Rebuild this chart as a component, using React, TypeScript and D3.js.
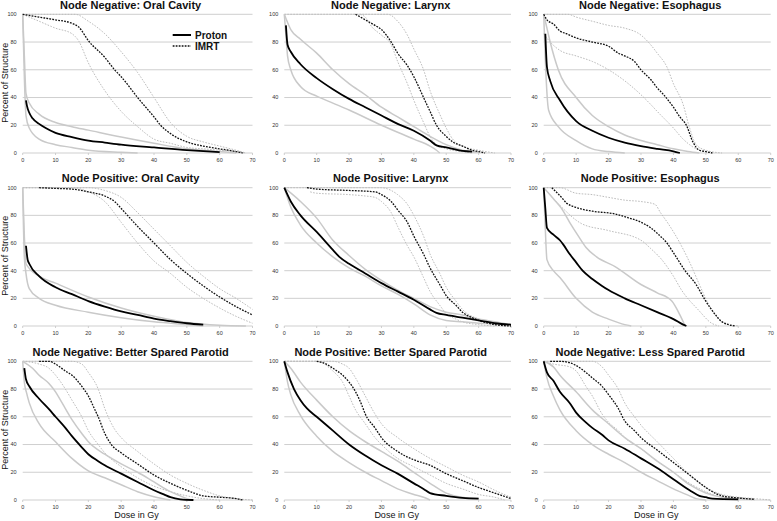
import React from "react";
import * as d3 from "d3";

type Pt = [number, number];

// ---------- tick labels ----------
const doseTicks = [0, 10, 20, 30, 40, 50, 60, 70];
const pctTicks = [0, 20, 40, 60, 80, 100];

const titles = [
  "Node Negative: Oral Cavity",
  "Node Negative: Larynx",
  "Node Negative: Esophagus",
  "Node Positive: Oral Cavity",
  "Node Positive: Larynx",
  "Node Positive: Esophagus",
  "Node Negative: Better Spared Parotid",
  "Node Positive: Better Spared Parotid",
  "Node Negative: Less Spared Parotid",
];

// ---------- 1. Node Negative: Oral Cavity ----------
const nnOralProtonMean: Pt[] = [[1, 38], [1.3, 34], [2, 29], [3, 25], [5, 21], [7, 18], [10, 14.5], [15, 11.5], [20, 9], [25, 7.5], [30, 6], [40, 4], [50, 2], [55, 1.3], [60, 0.7]];
const nnOralProtonHigh: Pt[] = [[0, 100], [0.5, 70], [1, 43], [2, 36], [5, 28], [10, 22], [15, 19], [20, 16.5], [30, 11.5], [40, 7], [50, 3], [60, 1], [65, 0]];
const nnOralProtonLow: Pt[] = [[0, 100], [0.5, 55], [1, 27], [2, 18], [5, 10], [10, 6], [15, 4], [20, 2], [30, 0.5], [35, 0]];
const nnOralImrtMean: Pt[] = [[0, 100], [5, 98], [10, 96], [15, 93.5], [17, 91], [20, 81], [25, 69], [28, 60], [30, 55], [35, 40], [40, 26], [42, 20], [45, 14], [50, 8], [55, 5], [60, 3], [65, 1], [67, 0]];
const nnOralImrtHigh: Pt[] = [[0, 100], [16, 100], [20, 95], [25, 86], [30, 73], [35, 58], [40, 40], [45, 22], [50, 12], [55, 8], [60, 5], [65, 2], [68, 0]];
const nnOralImrtLow: Pt[] = [[0, 100], [5, 95], [10, 90], [15, 86], [17, 81], [20, 65], [25, 45], [30, 30], [35, 19], [40, 10], [45, 7], [50, 4], [55, 3], [60, 2], [65, 1], [68, 0]];

// ---------- 2. Node Negative: Larynx ----------
const nnLarynxProtonMean: Pt[] = [[0.5, 92], [1, 78], [2, 73], [5, 64], [10, 54], [15, 46], [20, 39], [25, 33], [30, 27], [35, 21], [40, 16], [45, 9], [47, 5.5], [50, 4], [55, 1.5], [58, 1]];
const nnLarynxProtonHigh: Pt[] = [[0, 100], [2, 89], [5, 82], [10, 72], [15, 60], [20, 50], [25, 42], [30, 33], [35, 26], [40, 19], [45, 12], [50, 6], [55, 2], [60, 0.5]];
const nnLarynxProtonLow: Pt[] = [[0, 100], [0.5, 85], [1, 70], [2, 60], [5, 48], [10, 41], [15, 36], [20, 31], [30, 20], [40, 10], [45, 5], [47, 2], [48, 0]];
const nnLarynxImrtMean: Pt[] = [[22, 100], [25, 96], [28, 92], [30, 89], [33, 80], [35, 72], [38, 63], [40, 55], [43, 40], [45, 30], [47, 20], [50, 12], [52, 8], [55, 5], [58, 2], [60, 1], [62, 0]];
const nnLarynxImrtHigh: Pt[] = [[0, 100], [32, 100], [35, 95], [38, 85], [40, 75], [43, 60], [45, 45], [48, 28], [50, 18], [52, 10], [55, 5], [60, 2], [65, 0]];
const nnLarynxImrtLow: Pt[] = [[23.5, 100], [25, 98], [27, 91], [30, 85], [33, 78], [35, 66], [38, 50], [40, 38], [43, 22], [45, 12], [47, 6], [50, 3], [55, 1], [58, 0]];

// ---------- 3. Node Negative: Esophagus ----------
const nnEsoProtonMean: Pt[] = [[0.5, 86], [1, 62], [2, 52], [5, 38], [10, 23], [15, 16], [20, 11], [25, 7.5], [30, 5], [35, 3], [40, 1.2], [42, 0]];
const nnEsoProtonHigh: Pt[] = [[0, 100], [1, 90], [2, 80], [4.5, 60], [10, 40], [15, 27], [20, 19], [25, 13], [30, 9], [35, 6], [40, 3], [44.5, 1], [48, 0]];
const nnEsoProtonLow: Pt[] = [[0, 100], [0.5, 67], [1.5, 31], [4.5, 19], [10, 9], [15, 3], [20, 1], [25, 0]];
const nnEsoImrtMean: Pt[] = [[0, 100], [1, 96], [3, 93], [5, 88], [7, 86], [10, 83], [15, 80], [20, 77], [23, 72], [25, 70], [28, 66], [30, 60], [33, 53], [35, 47], [37, 42], [40, 33], [42, 26], [44, 20], [46, 8], [48, 2], [50, 1], [52, 0]];
const nnEsoImrtHigh: Pt[] = [[0, 100], [7.5, 100], [10, 98], [15, 95], [20, 92], [25, 90], [30, 85], [33, 78], [35, 72], [38, 62], [40, 50], [43, 35], [45, 18], [47, 6], [50, 2], [55, 0]];
const nnEsoImrtLow: Pt[] = [[0, 86], [2, 80], [5, 74], [10, 70], [15, 66], [20, 60], [25, 52], [30, 42], [33, 35], [35, 30], [40, 18], [43, 10], [45, 6], [47, 3], [50, 1], [52, 0]];

// ---------- 4. Node Positive: Oral Cavity ----------
const npOralProtonMean: Pt[] = [[1, 58], [1.5, 48], [2, 45], [5, 36], [10, 28], [15, 23], [20, 18], [25, 14], [30, 10.5], [35, 8], [40, 5.3], [45, 3.5], [50, 2], [55, 1]];
const npOralProtonHigh: Pt[] = [[0, 100], [0.5, 65], [1, 45], [5, 36], [10, 31], [20, 21], [30, 13], [40, 7], [50, 2.5], [60, 0.5], [68, 0]];
const npOralProtonLow: Pt[] = [[0, 100], [0.5, 50], [1, 38], [2, 27], [5, 20], [10, 15], [20, 10], [30, 6], [40, 3], [50, 1], [55, 0]];
const npOralImrtMean: Pt[] = [[5, 100], [10, 99.5], [15, 99], [20, 97], [25, 94], [28, 90], [30, 85], [35, 72], [40, 60], [45, 48], [50, 38], [55, 29], [60, 21], [65, 14], [70, 8]];
const npOralImrtHigh: Pt[] = [[0, 100], [20, 100], [25, 98], [30, 93], [35, 82], [40, 70], [45, 58], [50, 46], [55, 36], [60, 27], [65, 20], [70, 12]];
const npOralImrtLow: Pt[] = [[0, 100], [15, 100], [20, 97], [25, 90], [30, 75], [35, 60], [40, 47], [45, 38], [50, 28], [55, 20], [60, 13], [65, 7], [70, 2]];

// ---------- 5. Node Positive: Larynx ----------
const npLarynxProtonMean: Pt[] = [[0, 100], [2, 90], [5, 80], [10, 68], [15, 55], [17, 50], [20, 45], [25, 38], [30, 31], [35, 25], [40, 19], [45, 12], [47, 9.5], [50, 8], [55, 6], [60, 4], [65, 2], [70, 1]];
const npLarynxProtonHigh: Pt[] = [[0, 100], [5, 90], [10, 78], [15, 62], [20, 51], [25, 41], [30, 33], [35, 26], [40, 20], [45, 14], [50, 10], [55, 8], [60, 5], [65, 3], [70, 1]];
const npLarynxProtonLow: Pt[] = [[0, 100], [2, 86], [5, 73], [10, 60], [15, 50], [20, 42], [25, 36], [30, 29], [35, 23], [40, 16], [45, 8], [50, 4], [55, 3], [60, 2], [65, 1.5], [70, 0.5]];
const npLarynxImrtMean: Pt[] = [[7, 100], [10, 99], [20, 98], [28, 97], [30, 95], [33, 90], [35, 84], [38, 75], [40, 65], [43, 52], [45, 42], [48, 30], [50, 22], [53, 15], [55, 10], [58, 6], [60, 4], [63, 2], [65, 1], [70, 0]];
const npLarynxImrtHigh: Pt[] = [[0, 100], [30, 100], [33, 98], [35, 95], [38, 88], [40, 80], [43, 65], [45, 52], [48, 38], [50, 28], [53, 18], [55, 12], [60, 5], [65, 2], [70, 0]];
const npLarynxImrtLow: Pt[] = [[8, 97], [10, 96], [20, 95], [25, 94], [28, 93], [30, 90], [33, 82], [35, 72], [38, 58], [40, 50], [43, 35], [45, 25], [48, 15], [50, 9], [53, 5], [55, 3], [60, 1], [65, 0]];

// ---------- 6. Node Positive: Esophagus ----------
const npEsoProtonMean: Pt[] = [[0, 100], [0.5, 85], [1, 71], [3, 66], [5, 62], [6, 59], [8, 52], [10, 46], [12, 40], [15, 34], [18, 29], [20, 26], [25, 20], [30, 15], [35, 10], [40, 5], [43, 1], [44, 0]];
const npEsoProtonHigh: Pt[] = [[0, 100], [3, 92], [5.5, 85], [8, 75], [10.7, 65], [13, 57], [16.3, 50], [22, 43], [30, 30], [35, 24], [39.5, 18], [42, 8], [43.6, 0]];
const npEsoProtonLow: Pt[] = [[0, 100], [0.5, 70], [1, 48], [3, 40], [5, 35], [10, 20], [15, 10], [20, 5], [25, 1], [27, 0]];
const npEsoImrtMean: Pt[] = [[2.5, 100], [5.5, 93], [7, 89], [9.7, 86], [15, 83], [22, 81], [25, 79], [30, 75], [33, 71], [35, 67], [38, 60], [40, 53], [43.6, 40], [47, 30], [49.7, 19], [53, 8], [55, 3], [59, 0]];
const npEsoImrtHigh: Pt[] = [[0, 100], [5, 100], [10, 96], [15, 95], [20, 93], [25, 91], [30, 90], [34.3, 88], [36, 82], [38.4, 74], [42, 60], [45.6, 43], [48, 30], [50.8, 16], [55, 3], [60, 0]];
const npEsoImrtLow: Pt[] = [[0, 100], [5.5, 86], [11.7, 74], [20, 69], [30, 62], [33, 56], [36.4, 48], [40, 36], [42.5, 26], [47.7, 11.6], [51.8, 2], [54, 0]];

// ---------- 7. Node Negative: Better Spared Parotid ----------
const nnBetterProtonMean: Pt[] = [[0.5, 95], [1, 87], [2, 82], [5, 73], [8, 65.5], [10, 60], [13, 52], [15, 46], [18, 38], [20, 33], [23, 28], [25, 25], [30, 19], [35, 13], [40, 7], [43, 4], [45, 2], [48, 0.5], [52, 0]];
const nnBetterProtonHigh: Pt[] = [[0, 100], [3, 95], [5, 90], [8, 84], [10, 78], [12, 70], [15, 58], [18, 48], [20, 42], [25, 33], [30, 26], [35, 20], [40, 13], [45, 6], [48, 3], [50, 1], [52, 0]];
const nnBetterProtonLow: Pt[] = [[0, 100], [0.5, 85], [1.2, 77], [2, 70], [5, 55], [10, 42], [15, 30], [20, 21], [25, 16], [30, 11], [35, 6], [40, 2.4], [45, 0]];
const nnBetterImrtMean: Pt[] = [[5, 100], [8, 100], [10, 98], [13, 93], [15, 90], [18, 82], [20, 75], [22, 65], [23, 60], [25, 48], [27, 40], [30, 34], [35, 26], [40, 18], [45, 12], [50, 7], [55, 3], [60, 2], [65, 1], [67, 0]];
const nnBetterImrtHigh: Pt[] = [[0, 100], [15, 100], [18, 98], [20, 92], [23, 80], [25, 66], [28, 51], [30, 45], [35, 35], [40, 26], [45, 18], [50, 12], [55, 7], [60, 3], [65, 1], [70, 0]];
const nnBetterImrtLow: Pt[] = [[0, 100], [5, 98], [8, 95], [10, 90], [13, 80], [15, 72], [18, 60], [20, 50], [23, 40], [25, 34], [30, 24], [35, 16], [40, 10], [45, 6], [50, 3], [55, 1], [60, 0]];

// ---------- 8. Node Positive: Better Spared Parotid ----------
const npBetterProtonMean: Pt[] = [[0, 100], [1, 92], [3, 80], [5, 72], [7, 66], [10, 60], [15, 50], [20, 40], [25, 32], [30, 25], [35, 19], [40, 12], [43, 8], [45, 5], [50, 3], [55, 1.5], [60, 1]];
const npBetterProtonHigh: Pt[] = [[0, 100], [2, 95], [5, 85], [10, 72], [15, 60], [20, 50], [25, 42], [30, 35], [35, 28], [40, 20], [45, 12], [50, 5], [55, 2], [60, 1]];
const npBetterProtonLow: Pt[] = [[0, 100], [1, 85], [2, 76], [5, 61], [10, 46], [15, 35], [20, 27], [25, 20], [30, 14], [35, 8], [40, 4], [43, 2], [45, 0]];
const npBetterImrtMean: Pt[] = [[10, 100], [13, 98], [15, 95], [18, 90], [20, 85], [22, 78], [24, 68], [25, 62], [28, 52], [30, 45], [35, 35], [40, 29], [45, 25], [50, 19], [55, 14], [60, 9], [65, 5], [70, 1]];
const npBetterImrtHigh: Pt[] = [[0, 100], [15, 100], [18, 98], [20, 95], [22, 88], [25, 75], [28, 62], [30, 55], [35, 45], [40, 37], [45, 30], [50, 24], [55, 18], [60, 13], [65, 7], [70, 2]];
const npBetterImrtLow: Pt[] = [[0, 100], [10, 100], [15, 93], [18, 85], [20, 75], [22, 65], [25, 55], [28, 45], [30, 40], [35, 30], [40, 24], [45, 18], [50, 12], [55, 8], [60, 4], [65, 2], [68, 0]];

// ---------- 9. Node Negative: Less Spared Parotid ----------
const nnLessProtonMean: Pt[] = [[0, 100], [1, 92], [3, 86], [5, 78], [8, 70], [10, 63], [13, 56], [15, 52], [18, 47], [20, 43], [25, 37], [30, 30], [35, 23], [40, 15], [45, 7], [48, 3], [50, 2], [52, 1], [60, 0.5]];
const nnLessProtonHigh: Pt[] = [[0, 100], [3, 96], [5, 90], [10, 78], [15, 65], [20, 55], [25, 45], [30, 37], [35, 28], [40, 20], [45, 11], [50, 5], [55, 2], [60, 1], [65, 0.5]];
const nnLessProtonLow: Pt[] = [[0, 100], [1, 88], [3, 75], [5, 65], [10, 50], [15, 40], [20, 33], [25, 27], [30, 20], [35, 14], [40, 8], [45, 3], [47, 1], [50, 0]];
const nnLessImrtMean: Pt[] = [[2, 100], [5, 100], [8, 99], [10, 97], [13, 92], [15, 88], [18, 82], [20, 76], [23, 66], [25, 57], [28, 50], [30, 45], [35, 36], [40, 27], [45, 18], [50, 9], [52, 6], [55, 3], [60, 1.5], [65, 0.5]];
const nnLessImrtHigh: Pt[] = [[0, 100], [15, 100], [18, 96], [20, 90], [23, 80], [25, 70], [28, 60], [30, 54], [35, 42], [40, 30], [45, 18], [50, 9], [55, 4], [60, 2], [65, 1], [70, 0]];
const nnLessImrtLow: Pt[] = [[0, 100], [3, 98], [8, 96], [10, 93], [13, 82], [15, 75], [18, 62], [20, 56], [23, 50], [25, 45], [30, 37], [35, 28], [40, 20], [45, 12], [50, 6], [55, 2], [60, 1], [65, 0]];

const protonMeans = [nnOralProtonMean, nnLarynxProtonMean, nnEsoProtonMean, npOralProtonMean, npLarynxProtonMean, npEsoProtonMean, nnBetterProtonMean, npBetterProtonMean, nnLessProtonMean];
const protonHighs = [nnOralProtonHigh, nnLarynxProtonHigh, nnEsoProtonHigh, npOralProtonHigh, npLarynxProtonHigh, npEsoProtonHigh, nnBetterProtonHigh, npBetterProtonHigh, nnLessProtonHigh];
const protonLows = [nnOralProtonLow, nnLarynxProtonLow, nnEsoProtonLow, npOralProtonLow, npLarynxProtonLow, npEsoProtonLow, nnBetterProtonLow, npBetterProtonLow, nnLessProtonLow];
const imrtMeans = [nnOralImrtMean, nnLarynxImrtMean, nnEsoImrtMean, npOralImrtMean, npLarynxImrtMean, npEsoImrtMean, nnBetterImrtMean, npBetterImrtMean, nnLessImrtMean];
const imrtHighs = [nnOralImrtHigh, nnLarynxImrtHigh, nnEsoImrtHigh, npOralImrtHigh, npLarynxImrtHigh, npEsoImrtHigh, nnBetterImrtHigh, npBetterImrtHigh, nnLessImrtHigh];
const imrtLows = [nnOralImrtLow, nnLarynxImrtLow, nnEsoImrtLow, npOralImrtLow, npLarynxImrtLow, npEsoImrtLow, nnBetterImrtLow, npBetterImrtLow, nnLessImrtLow];

const legendLabels = ["Proton", "IMRT"];

// ---------- layout ----------
const colLeft = [22.7, 284.3, 543.7];
const colRight = [252.5, 511, 770.7];
const rowTop = [14.3, 187.7, 361.3];
const rowBottom = [153, 326, 500];

const FONT = "'Liberation Sans', Arial, Helvetica, sans-serif";
const GRAY = "#c9c9c9";

function Panel({ i }: { i: number }) {
  const col = i % 3;
  const row = Math.floor(i / 3);
  const x = d3.scaleLinear().domain([0, 70]).range([colLeft[col], colRight[col]]);
  const y = d3.scaleLinear().domain([0, 100]).range([rowBottom[row], rowTop[row]]);
  const line = d3
    .line<Pt>()
    .x((d) => x(d[0]))
    .y((d) => y(d[1]))
    .curve(d3.curveMonotoneX);
  const cx = (colLeft[col] + colRight[col]) / 2 - 7;
  return (
    <g>
      <text
        x={cx}
        y={rowTop[row] - 5.5}
        textAnchor="middle"
        fontFamily={FONT}
        fontWeight="bold"
        fontSize={11}
        fill="#111"
      >
        {titles[i]}
      </text>
      {pctTicks.map((t) => (
        <g key={"y" + t}>
          <line x1={x(0)} x2={x(70)} y1={y(t)} y2={y(t)} stroke={GRAY} strokeWidth={0.9} />
          <text
            x={x(0) - 6}
            y={y(t)}
            dy="0.35em"
            textAnchor="end"
            fontFamily={FONT}
            fontSize={5.5}
            fill="#333"
          >
            {t}
          </text>
        </g>
      ))}
      {doseTicks.map((t) => (
        <g key={"x" + t}>
          <line x1={x(t)} x2={x(t)} y1={y(0)} y2={y(0) + 2} stroke={GRAY} strokeWidth={0.9} />
          <text
            x={x(t)}
            y={y(0) + 8.5}
            textAnchor="middle"
            fontFamily={FONT}
            fontSize={5.5}
            fill="#333"
          >
            {t}
          </text>
        </g>
      ))}
      {[imrtHighs[i], imrtLows[i]].map((d, k) => (
        <path key={"ig" + k} d={line(d) || ""} fill="none" stroke="#bdbdbd" strokeWidth={1} strokeDasharray="1.6,1.4" />
      ))}
      {[protonHighs[i], protonLows[i]].map((d, k) => (
        <path key={"pg" + k} d={line(d) || ""} fill="none" stroke={GRAY} strokeWidth={1.5} />
      ))}
      <path d={line(imrtMeans[i]) || ""} fill="none" stroke="#111" strokeWidth={1.3} strokeDasharray="1.8,1.2" />
      <path d={line(protonMeans[i]) || ""} fill="none" stroke="#000" strokeWidth={1.8} />
    </g>
  );
}

export default function App() {
  const yLabelCenters = rowTop.map((t, r) => (t + rowBottom[r]) / 2 - 1);
  return (
    <svg width={777} height={521} style={{ position: "absolute", left: 0, top: 0, background: "#fff" }}>
      <rect x={0} y={0} width={777} height={521} fill="#fff" />
      {titles.map((_, i) => (
        <Panel key={i} i={i} />
      ))}
      {yLabelCenters.map((c, r) => (
        <text
          key={"yl" + r}
          transform={`translate(8.3,${c}) rotate(-90)`}
          textAnchor="middle"
          fontFamily={FONT}
          fontSize={9}
          fill="#111"
        >
          Percent of Structure
        </text>
      ))}
      {[0, 1, 2].map((c) => (
        <text
          key={"xl" + c}
          x={(colLeft[c] + colRight[c]) / 2 - 1}
          y={518}
          textAnchor="middle"
          fontFamily={FONT}
          fontSize={9}
          fill="#111"
        >
          Dose in Gy
        </text>
      ))}
      <g>
        <line x1={172.7} x2={191} y1={35} y2={35} stroke="#000" strokeWidth={2} />
        <text x={195} y={38.5} fontFamily={FONT} fontWeight="bold" fontSize={10} fill="#111">
          {legendLabels[0]}
        </text>
        <line x1={172.7} x2={191} y1={46} y2={46} stroke="#111" strokeWidth={1.3} strokeDasharray="1.8,1.2" />
        <text x={195} y={49.5} fontFamily={FONT} fontWeight="bold" fontSize={10} fill="#111">
          {legendLabels[1]}
        </text>
      </g>
    </svg>
  );
}
